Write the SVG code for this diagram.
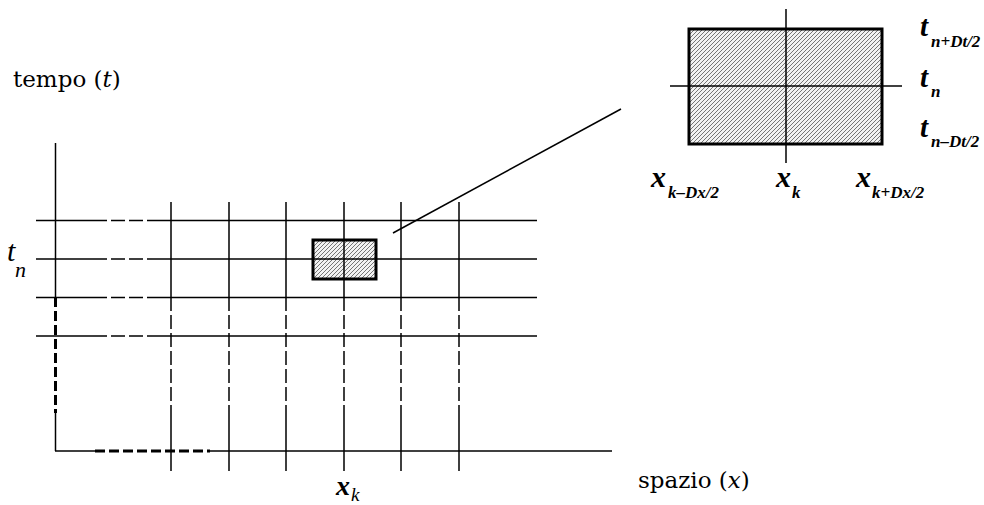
<svg xmlns="http://www.w3.org/2000/svg" width="984" height="505" viewBox="0 0 984 505">
<style>
.ln{stroke:#000;stroke-width:1.5;fill:none}
.dl{stroke:#000;stroke-width:1.5;fill:none;stroke-dasharray:14 4}
.tk{stroke:#000;stroke-width:3;fill:none;stroke-dasharray:10 4}
.box{stroke:#000;stroke-width:3;fill:url(#hatch)}
.lbl{font-family:"DejaVu Serif",serif;font-size:23px;fill:#000}
.sr{font-family:"Liberation Serif",serif;font-style:italic;fill:#000}
.it{font-style:italic}
.bi{font-family:"Liberation Serif",serif;font-style:italic;font-weight:bold;fill:#000}
</style>
<defs>
<pattern id="hatch" patternUnits="userSpaceOnUse" width="4" height="4">
<rect width="4" height="4" fill="#f2f2f2"/>
<path d="M-1,1 l2,-2 M0,4 l4,-4 M3,5 l2,-2" stroke="#555" stroke-width="0.8"/>
</pattern>
</defs>
<rect width="984" height="505" fill="#fff"/>
<g id="axes">
<line class="ln" x1="55.5" y1="143" x2="55.5" y2="297"/>
<line class="tk" x1="55.5" y1="297" x2="55.5" y2="413"/>
<line class="ln" x1="55.5" y1="413" x2="55.5" y2="451"/>
<line class="ln" x1="55" y1="451" x2="95" y2="451"/>
<line class="tk" x1="95" y1="451" x2="210" y2="451"/>
<line class="ln" x1="210" y1="451" x2="612" y2="451"/>
</g>
<g id="grid-h">
<line class="ln" x1="36" y1="220.5" x2="93" y2="220.5"/>
<line class="dl" x1="93" y1="220.5" x2="152" y2="220.5"/>
<line class="ln" x1="152" y1="220.5" x2="537" y2="220.5"/>
<line class="ln" x1="36" y1="259" x2="93" y2="259"/>
<line class="dl" x1="93" y1="259" x2="152" y2="259"/>
<line class="ln" x1="152" y1="259" x2="537" y2="259"/>
<line class="ln" x1="36" y1="297.5" x2="93" y2="297.5"/>
<line class="dl" x1="93" y1="297.5" x2="152" y2="297.5"/>
<line class="ln" x1="152" y1="297.5" x2="537" y2="297.5"/>
<line class="ln" x1="36" y1="336" x2="93" y2="336"/>
<line class="dl" x1="93" y1="336" x2="152" y2="336"/>
<line class="ln" x1="152" y1="336" x2="537" y2="336"/>
</g>
<g id="grid-v">
<path class="ln" d="M171,202V297M229,202V297M286,202V297M344,202V297M401,202V297M459,202V297"/>
<path class="dl" d="M171,297V413M229,297V413M286,297V413M344,297V413M401,297V413M459,297V413"/>
<path class="ln" d="M171,413V471M229,413V471M286,413V471M344,413V471M401,413V471M459,413V471"/>
</g>
<g id="cell">
<rect class="box" x="313" y="240" width="63" height="39"/>
<line class="ln" x1="313" y1="259" x2="376" y2="259"/>
<line class="ln" x1="344" y1="240" x2="344" y2="279"/>
</g>
<g id="connectors">
<line class="ln" x1="393" y1="233" x2="621" y2="109"/>
</g>
<g id="inset">
<rect class="box" x="689" y="29" width="193" height="115"/>
<line class="ln" x1="670" y1="86" x2="902" y2="86"/>
<line class="ln" x1="786" y1="9" x2="786" y2="163"/>
</g>
<g id="labels">
<text class="lbl" x="13" y="87">tempo (<tspan class="it">t</tspan>)</text>
<text class="lbl" x="638" y="488">spazio (<tspan class="it">x</tspan>)</text>
<text class="sr" x="7" y="261" font-size="30">t</text>
<text class="sr" x="15" y="277" font-size="22">n</text>
<text class="bi" x="336" y="495" font-size="28">x</text>
<text class="sr" x="351" y="501" font-size="19">k</text>
<text class="bi" x="920" y="36" font-size="29">t</text>
<text class="bi" x="931" y="47" font-size="17">n+Dt/2</text>
<text class="bi" x="920" y="87" font-size="29">t</text>
<text class="bi" x="931" y="97" font-size="17">n</text>
<text class="bi" x="920" y="137" font-size="29">t</text>
<text class="bi" x="931" y="147" font-size="17">n–Dt/2</text>
<text class="bi" x="651" y="187" font-size="30">x</text>
<text class="bi" x="668" y="198" font-size="17">k–Dx/2</text>
<text class="bi" x="776" y="187" font-size="30">x</text>
<text class="bi" x="792" y="198" font-size="17">k</text>
<text class="bi" x="856" y="187" font-size="30">x</text>
<text class="bi" x="872" y="198" font-size="17">k+Dx/2</text>
</g>
</svg>
